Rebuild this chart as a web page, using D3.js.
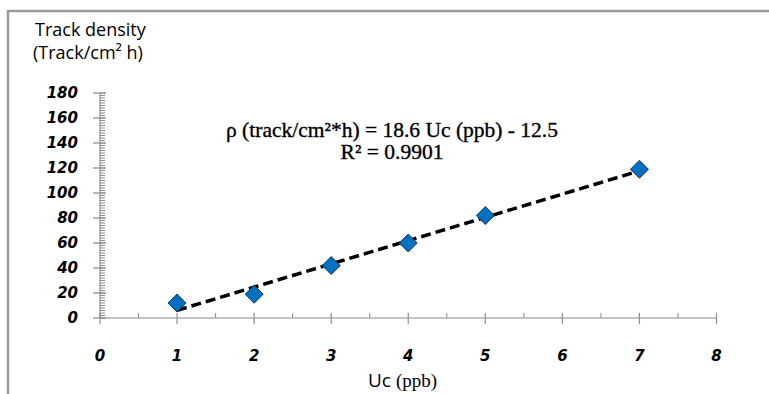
<!DOCTYPE html>
<html lang="en">
<head>
<meta charset="utf-8">
<script src="https://d3js.org/d3.v7.min.js"></script>
<title>Track density vs Uc</title>
<style>
  body { margin: 0; background: #fff; }
  svg { display: block; }
</style>
</head>
<body>
<div id="plot"></div>
<script>
// data
var uc = [1, 2, 3, 4, 5, 7];
var density = [12, 19, 42, 60, 82, 119];
var fitSlope = 18.6, fitIntercept = -12.5;
var xTicks = [0, 1, 2, 3, 4, 5, 6, 7, 8];
var yTicks = [0, 20, 40, 60, 80, 100, 120, 140, 160, 180];
var eqText = "\u03c1 (track/cm\u00b2*h) = 18.6 Uc (ppb) - 12.5";
var r2Text = "R\u00b2 = 0.9901";

var W = 769, H = 394;
var svg = d3.select("#plot").append("svg").attr("width", W).attr("height", H);

// frame (only top and left edge visible)
svg.append("line").attr("x1", 8).attr("x2", W).attr("y1", 11).attr("y2", 11)
  .attr("stroke", "#9a9a9a").attr("stroke-width", 2.5);
svg.append("line").attr("x1", 8).attr("x2", 8).attr("y1", 10).attr("y2", H)
  .attr("stroke", "#9a9a9a").attr("stroke-width", 2.5);

var x = d3.scaleLinear().domain([0, 8]).range([100, 716.5]);
var y = d3.scaleLinear().domain([0, 180]).range([318, 93]);

var axisCol = "#8c8c8c";
var tickFont = "'DejaVu Sans', sans-serif";

// y axis
var gy = svg.append("g");
gy.append("line").attr("x1", x(0)).attr("x2", x(0)).attr("y1", y(0)).attr("y2", y(180))
  .attr("stroke", axisCol).attr("stroke-width", 1.2);
gy.selectAll(".minor").data(d3.range(0, 181, 2)).enter().append("line")
  .attr("x1", x(0)).attr("x2", x(0) + 5)
  .attr("y1", function(d){ return y(d); }).attr("y2", function(d){ return y(d); })
  .attr("stroke", axisCol).attr("stroke-width", 1);
gy.selectAll(".major").data(yTicks).enter().append("line")
  .attr("x1", x(0) - 7).attr("x2", x(0) + 6)
  .attr("y1", function(d){ return y(d); }).attr("y2", function(d){ return y(d); })
  .attr("stroke", axisCol).attr("stroke-width", 1.2);
gy.selectAll("text").data(yTicks).enter().append("text")
  .attr("x", 78).attr("y", function(d){ return y(d); })
  .attr("dy", "0.36em")
  .attr("text-anchor", "end")
  .style("font-family", tickFont).style("font-size", "15px")
  .style("font-weight", "bold").style("font-style", "italic")
  .text(function(d){ return d; });

// x axis
var gx = svg.append("g");
gx.append("line").attr("x1", x(0)).attr("x2", x(8)).attr("y1", y(0)).attr("y2", y(0))
  .attr("stroke", axisCol).attr("stroke-width", 1.2);
gx.selectAll(".minor").data(d3.range(0.5, 8, 1)).enter().append("line")
  .attr("x1", function(d){ return x(d); }).attr("x2", function(d){ return x(d); })
  .attr("y1", y(0) - 5).attr("y2", y(0))
  .attr("stroke", axisCol).attr("stroke-width", 1);
gx.selectAll(".major").data(xTicks).enter().append("line")
  .attr("x1", function(d){ return x(d); }).attr("x2", function(d){ return x(d); })
  .attr("y1", y(0) - 5).attr("y2", y(0) + 6)
  .attr("stroke", axisCol).attr("stroke-width", 1.2);
gx.selectAll("text").data(xTicks).enter().append("text")
  .attr("x", function(d){ return x(d); }).attr("y", 361)
  .attr("text-anchor", "middle")
  .style("font-family", tickFont).style("font-size", "15px")
  .style("font-weight", "bold").style("font-style", "italic")
  .text(function(d){ return d; });

// trend line
svg.append("line")
  .attr("x1", x(uc[0])).attr("y1", y(fitSlope * uc[0] + fitIntercept))
  .attr("x2", x(uc[uc.length - 1])).attr("y2", y(fitSlope * uc[uc.length - 1] + fitIntercept))
  .attr("stroke", "#000").attr("stroke-width", 3.5)
  .attr("stroke-dasharray", "10,5");

// points
svg.selectAll(".pt").data(uc).enter().append("path")
  .attr("d", "M0,-9L9,0L0,9L-9,0Z")
  .attr("transform", function(d, i){ return "translate(" + x(d) + "," + y(density[i]) + ")"; })
  .attr("fill", "#0070c0").attr("stroke", "#1f3550").attr("stroke-width", 1);

// equation
var eq = svg.append("g").style("font-family", "'Liberation Serif', serif").style("font-size", "21.5px")
  .attr("stroke", "#000").attr("stroke-width", 0.35);
eq.append("text").attr("x", 392).attr("y", 137).attr("text-anchor", "middle").text(eqText);
eq.append("text").attr("x", 392).attr("y", 159).attr("text-anchor", "middle").text(r2Text);

// axis titles
var sans = "'Open Sans', sans-serif";
svg.append("text").attr("x", 35).attr("y", 36)
  .style("font-family", sans).style("font-size", "18px").text("Track density");
svg.append("text").attr("x", 33).attr("y", 59)
  .style("font-family", sans).style("font-size", "18px").text("(Track/cm\u00b2 h)");

var xt = svg.append("text").attr("x", 368).attr("y", 387).style("font-size", "19px");
xt.append("tspan").style("font-family", sans).text("Uc ");
xt.append("tspan").style("font-family", "'Liberation Serif', serif").text("(ppb)");
</script>
</body>
</html>
